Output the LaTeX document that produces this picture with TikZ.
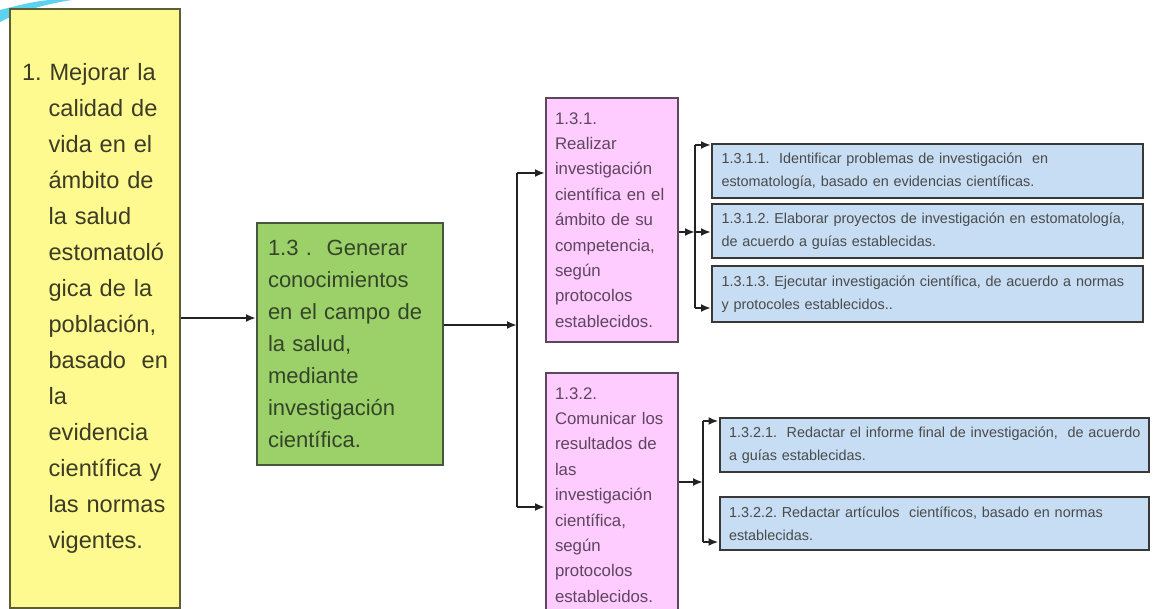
\documentclass[tikz,border=0pt]{standalone}
\usepackage{fontspec}
\setmainfont{Liberation Sans}
\usetikzlibrary{arrows.meta}
\frenchspacing

\definecolor{yelfill}{HTML}{FFFA90}
\definecolor{yelline}{HTML}{5E5E36}
\definecolor{yeltext}{HTML}{3C3C26}
\definecolor{grnfill}{HTML}{9CD16A}
\definecolor{grnline}{HTML}{46563A}
\definecolor{grntext}{HTML}{34452A}
\definecolor{pnkfill}{HTML}{FFCCFF}
\definecolor{pnkline}{HTML}{5E465E}
\definecolor{pnktext}{HTML}{5E465E}
\definecolor{blufill}{HTML}{C6DDF3}
\definecolor{bluline}{HTML}{383838}
\definecolor{blutext}{HTML}{4A4A4A}
\definecolor{linecol}{HTML}{222222}
\definecolor{swirl}{HTML}{5CD2EE}

\newcommand\hin{\hspace*{13.3pt}}

\begin{document}
\begin{tikzpicture}[x=0.5pt,y=-0.5pt,
  box/.style={draw, line width=1pt, align=left, inner ysep=0pt},
  goal/.style={box, fill=yelfill, draw=yelline, text=yeltext, text width=73pt, inner xsep=6pt,
    minimum height=299.5pt, font=\fontsize{11.8}{18}\selectfont},
  obj/.style={box, fill=grnfill, draw=grnline, text=grntext, text width=82pt, inner xsep=5.5pt,
    minimum height=121pt, font=\fontsize{11}{16}\selectfont},
  task/.style={box, fill=pnkfill, draw=pnkline, text=pnktext, text width=57pt, inner xsep=4.5pt,
    minimum height=122pt, font=\fontsize{8.4}{12.7}\selectfont},
  act/.style={box, fill=blufill, draw=bluline, text=blutext, text width=206pt, inner xsep=4.75pt,
    minimum height=27pt, font=\fontsize{7.2}{11.5}\selectfont},
  conn/.style={line width=1pt, draw=linecol},
  arr/.style={conn, -{Latex[length=5pt,width=4pt]}}]

\useasboundingbox (0,0) rectangle (1157,609);
\fill[swirl] (0,10) .. controls (20,5) and (35,1) .. (50,0) -- (72,0) .. controls (40,5) and (20,12) .. (0,22) -- cycle;

\node[goal] (meta) at (95,308.5) {1. Mejorar la\\ \hin calidad de\\ \hin vida en el\\ \hin ámbito de\\ \hin la salud\\ \hin estomatoló\\ \hin gica de la\\ \hin población,\\ \hin basado~ en\\ \hin la\\ \hin evidencia\\ \hin científica y\\ \hin las normas\\ \hin vigentes.};
\node[obj] (gen) at (350,344) {1.3 .~ Generar\\ conocimientos\\ en el campo de\\ la salud,\\ mediante\\ investigación\\ científica.};

\node[task] (inv) at (612,220) {1.3.1.\\ Realizar\\ investigación\\ científica en el\\ ámbito de su\\ competencia,\\ según\\ protocolos\\ establecidos.};
\node[task] (com) at (612,495) {1.3.2.\\ Comunicar los\\ resultados de\\ las\\ investigación\\ científica,\\ según\\ protocolos\\ establecidos.};

\node[act] (idp) at (927.5,171) {1.3.1.1.~ Identificar problemas de investigación~ en\\ estomatología, basado en evidencias científicas.};
\node[act] (elp) at (927.5,231) {1.3.1.2. Elaborar proyectos de investigación en estomatología,\\ de acuerdo a guías establecidas.};
\node[act, minimum height=28pt] (eje) at (927.5,294) {1.3.1.3. Ejecutar investigación científica, de acuerdo a normas\\ y protocoles establecidos..};
\node[act, text width=205pt] (inf) at (934,445) {\mbox{1.3.2.1.~ Redactar el informe final de investigación,~ de acuerdo}\\ a guías establecidas.};
\node[act, text width=205pt, minimum height=26.5pt] (art) at (934,523.5) {1.3.2.2. Redactar artículos~ científicos, basado en normas\\ establecidas.};

\coordinate (y1) at (0,318);
\draw[arr] (meta.east |- y1) -- (gen.west |- y1);

\coordinate (j1) at (517,325);
\coordinate (k1) at (517,173);
\coordinate (k2) at (517,507);
\draw[arr] (gen.east |- j1) -- (j1);
\draw[conn] (k1) -- (k2);
\draw[arr] (k1) -- (k1 -| inv.west);
\draw[arr] (k2) -- (k2 -| com.west);

\coordinate (j2) at (695,232);
\coordinate (k3) at (695,145);
\coordinate (k4) at (695,308);
\draw[arr] (inv.east |- j2) -- (j2);
\draw[arr] (j2) -- (j2 -| elp.west);
\draw[conn] (k3) -- (k4);
\draw[arr] (k3) -- (k3 -| idp.west);
\draw[arr] (k4) -- (k4 -| eje.west);

\coordinate (j3) at (703,482);
\coordinate (k5) at (703,421);
\coordinate (k6) at (703,542);
\draw[arr] (com.east |- j3) -- (j3);
\draw[conn] (k5) -- (k6);
\draw[arr] (k5) -- (k5 -| inf.west);
\draw[arr] (k6) -- (k6 -| art.west);
\end{tikzpicture}
\end{document}
